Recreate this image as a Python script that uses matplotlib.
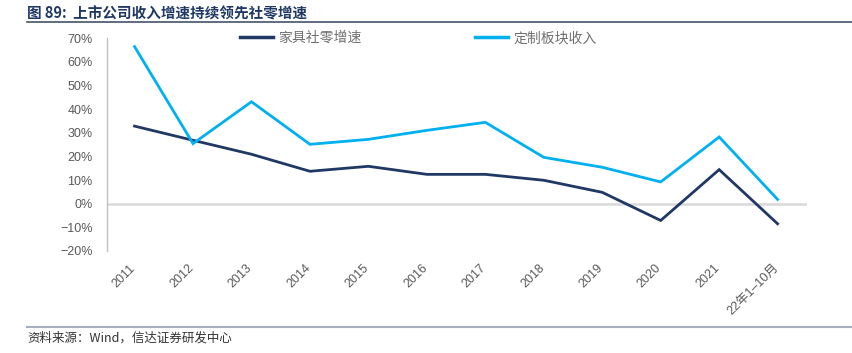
import numpy as np
import matplotlib.pyplot as plt
from matplotlib.lines import Line2D
from matplotlib.transforms import ScaledTranslation

plt.rcParams['font.family'] = ['Liberation Sans', 'Noto Sans CJK SC', 'DejaVu Sans']

# ---------------- data ----------------
years = ["2011", "2012", "2013", "2014", "2015", "2016", "2017", "2018",
         "2019", "2020", "2021", "22年1–10月"]
retail_growth = [32.8, 26.8, 20.9, 13.7, 15.8, 12.4, 12.4, 9.9, 4.8, -7.1, 14.4, -8.5]
custom_growth = [66.4, 25.4, 43.1, 25.1, 27.2, 31.0, 34.4, 19.6, 15.4, 9.2, 28.2, 1.8]
yticks = [-20, -10, 0, 10, 20, 30, 40, 50, 60, 70]

navy = "#203864"
cyan = "#00b0f0"
gray_txt = "#595959"

fig = plt.figure(figsize=(8.52, 3.53), dpi=100)
ax = fig.add_axes([0.125, 0.289, 0.822, 0.603])

x = np.arange(len(years))
ax.plot(x, retail_growth, color=navy, lw=2.0, solid_joinstyle="miter")
ax.plot(x, custom_growth, color=cyan, lw=2.0, solid_joinstyle="miter")
ax.axhline(0, color="#d9d9d9", lw=1.8, zorder=0)

ax.set_xlim(-0.48, 11.5)
ax.set_ylim(-20, 70)
ax.set_yticks(yticks)
ax.set_yticklabels([f"{v}%".replace("-", "\u2212") for v in yticks], fontsize=9, color=gray_txt)

# category labels drawn as rotated text under the axis
ax.set_xticks(x)
ax.set_xticklabels([])
offset = ScaledTranslation(3 / 100, -11 / 100, fig.dpi_scale_trans)
for xi, lab in zip(x, years):
    ax.text(xi, 0, lab, transform=ax.get_xaxis_transform() + offset,
            rotation=45, ha="right", va="top", fontsize=9, color=gray_txt)

for side in ["top", "right", "bottom"]:
    ax.spines[side].set_visible(False)
ax.spines["left"].set_color("#bfbfbf")
ax.spines["left"].set_linewidth(1.0)
ax.tick_params(length=0, pad=10)

# legend
handles = [Line2D([0], [0], color=navy, lw=2.5), Line2D([0], [0], color=cyan, lw=2.5)]
leg = fig.legend(handles, ["家具社零增速", "定制板块收入"], loc="center left",
                 bbox_to_anchor=(240 / 852, 0.892), ncol=2, frameon=False,
                 prop={"family": ["Noto Sans CJK SC"], "size": 10},
                 borderpad=0, borderaxespad=0,
                 handlelength=2.35, handletextpad=0.4, columnspacing=8.2)
for t in leg.get_texts():
    t.set_color("#707070")

# title and footer
fig.text(0.032, 0.962, "图 89:  上市公司收入增速持续领先社零增速", fontsize=10.5,
         fontweight="bold", color=navy, va="center",
         family=["Noto Sans CJK SC", "DejaVu Sans"])
fig.add_artist(Line2D([0.032, 1.0], [0.937, 0.937], color="#44546a", lw=1.2))
fig.add_artist(Line2D([0.032, 1.0], [0.074, 0.074], color="#a6aec0", lw=1.5))
fig.text(0.032, 0.042, "资料来源：Wind，信达证券研发中心", fontsize=9, style="italic",
         color="#333333", va="center", family=["Noto Sans CJK SC", "DejaVu Sans"])

fig.savefig("out.png", dpi=100)
